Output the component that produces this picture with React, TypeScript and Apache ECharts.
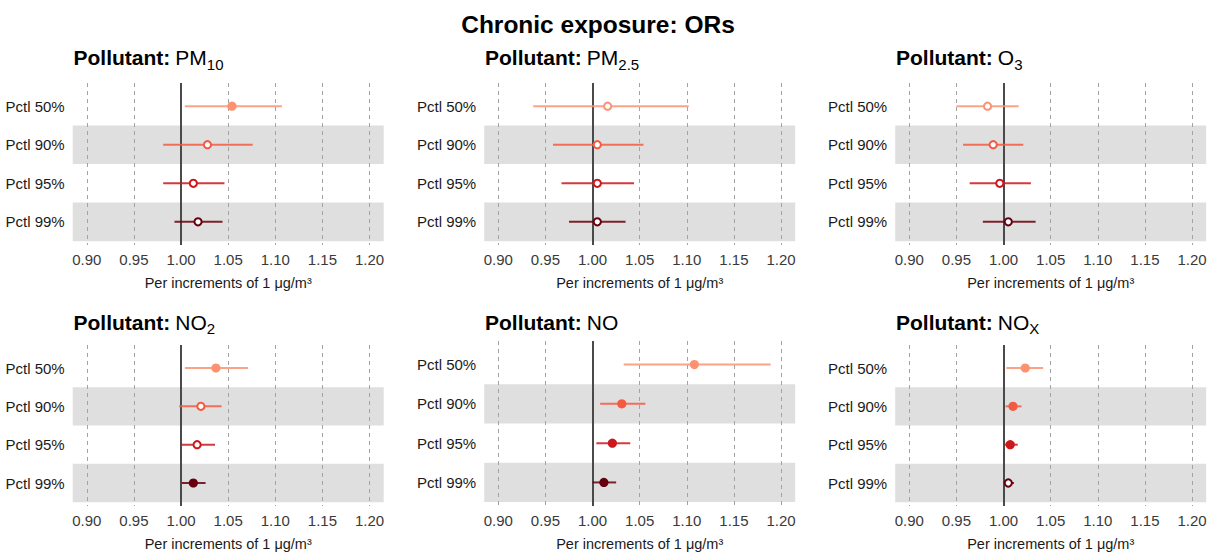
import { useEffect, useRef } from 'react';
import * as echarts from 'echarts';

// ---------- data ----------
const pctlLabels = ['Pctl 50%', 'Pctl 90%', 'Pctl 95%', 'Pctl 99%'];
const pctlColors = ['#FC9272', '#F45A42', '#CB181D', '#67000D'];
const xTicks = [0.9, 0.95, 1.0, 1.05, 1.1, 1.15, 1.2];
const bandRows = [2, 4];

const pm10Est = [1.054, 1.028, 1.013, 1.018];
const pm10Low = [1.004, 0.981, 0.981, 0.993];
const pm10High = [1.107, 1.076, 1.046, 1.044];
const pm10Filled = [1, 0, 0, 0];

const pm25Est = [1.016, 1.005, 1.005, 1.005];
const pm25Low = [0.937, 0.958, 0.967, 0.975];
const pm25High = [1.102, 1.054, 1.044, 1.035];
const pm25Filled = [0, 0, 0, 0];

const o3Est = [0.983, 0.989, 0.996, 1.005];
const o3Low = [0.950, 0.957, 0.964, 0.978];
const o3High = [1.016, 1.021, 1.029, 1.034];
const o3Filled = [0, 0, 0, 0];

const no2Est = [1.037, 1.021, 1.017, 1.013];
const no2Low = [1.004, 0.998, 1.000, 1.001];
const no2High = [1.071, 1.043, 1.036, 1.026];
const no2Filled = [1, 0, 0, 1];

const noEst = [1.108, 1.031, 1.021, 1.012];
const noLow = [1.033, 1.008, 1.004, 1.000];
const noHigh = [1.189, 1.056, 1.040, 1.025];
const noFilled = [1, 1, 1, 1];

const noxEst = [1.023, 1.010, 1.007, 1.005];
const noxLow = [1.003, 1.002, 1.001, 1.001];
const noxHigh = [1.042, 1.019, 1.015, 1.011];
const noxFilled = [1, 1, 1, 0];

const pollutantNames = ['PM', 'PM', 'O', 'NO', 'NO', 'NO'];
const pollutantSubs = ['10', '2.5', '3', '2', '', 'X'];

const mainTitle = 'Chronic exposure: ORs';
const xAxisTitle = 'Per increments of 1 μg/m³';

// ---------- layout ----------
const FONT = '"Liberation Sans", Arial, Helvetica, sans-serif';
const X_MIN = 0.885;
const X_MAX = 1.215;
const Y_MIN = 0.4;
const Y_MAX = 4.6;

const panelBoxes = [
  { left: 72.7, top: 83, width: 311, height: 162 },
  { left: 484.2, top: 83, width: 311, height: 162 },
  { left: 895.2, top: 83, width: 311, height: 162 },
  { left: 72.7, top: 345, width: 311, height: 161 },
  { left: 484.2, top: 341, width: 311, height: 165 },
  { left: 895.2, top: 345, width: 311, height: 161 },
];
const titleTops = [43.5, 43.5, 43.5, 308, 308, 308];

const panelsData = [
  [pm10Est, pm10Low, pm10High, pm10Filled],
  [pm25Est, pm25Low, pm25High, pm25Filled],
  [o3Est, o3Low, o3High, o3Filled],
  [no2Est, no2Low, no2High, no2Filled],
  [noEst, noLow, noHigh, noFilled],
  [noxEst, noxLow, noxHigh, noxFilled],
];

function buildOption() {
  const grid: any[] = [];
  const xAxis: any[] = [];
  const yAxis: any[] = [];
  const series: any[] = [];
  const title: any[] = [];

  panelBoxes.forEach((box, i) => {
    grid.push({ ...box, containLabel: false, outerBoundsMode: 'none' });
    xAxis.push({
      type: 'value',
      gridIndex: i,
      min: X_MIN,
      max: X_MAX,
      axisLine: { show: false },
      axisTick: { show: false },
      splitLine: { show: false },
      axisLabel: {
        customValues: xTicks,
        formatter: (v: number) => v.toFixed(2),
        fontFamily: FONT,
        fontSize: 15,
        color: '#3a3a3a',
        margin: 7,
      },
      name: xAxisTitle,
      nameLocation: 'middle',
      nameGap: 30,
      nameTextStyle: { fontFamily: FONT, fontSize: 14.5, color: '#1a1a1a' },
    });
    yAxis.push({
      type: 'value',
      gridIndex: i,
      inverse: true,
      min: Y_MIN,
      max: Y_MAX,
      axisLine: { show: false },
      axisTick: { show: false },
      splitLine: { show: false },
      axisLabel: {
        customValues: [1, 2, 3, 4],
        formatter: (v: number) => pctlLabels[Math.round(v) - 1] || '',
        fontFamily: FONT,
        fontSize: 15,
        color: '#1a1a1a',
        margin: 8,
      },
    });

    const [est, low, high, filled] = panelsData[i];
    const data = pctlLabels.map((_, r) => [r + 1, est[r], low[r], high[r], filled[r], r]);

    series.push({
      type: 'custom',
      xAxisIndex: i,
      yAxisIndex: i,
      encode: { x: [1, 2, 3], y: 0 },
      data,
      silent: true,
      z: 3,
      renderItem: (_params: any, api: any) => {
        const y = api.value(0);
        const e = api.value(1);
        const lo = api.value(2);
        const hi = api.value(3);
        const f = api.value(4);
        const color = pctlColors[api.value(5)];
        const p0 = api.coord([lo, y]);
        const p1 = api.coord([hi, y]);
        const pc = api.coord([e, y]);
        return {
          type: 'group',
          children: [
            {
              type: 'line',
              shape: { x1: p0[0], y1: p0[1], x2: p1[0], y2: p1[1] },
              style: { stroke: color, lineWidth: 2, opacity: 0.85 },
            },
            {
              type: 'circle',
              shape: { cx: pc[0], cy: pc[1], r: f ? 4.6 : 3.6 },
              style: f
                ? { fill: color, stroke: color, lineWidth: 0 }
                : { fill: '#ffffff', stroke: color, lineWidth: 2 },
            },
          ],
        };
      },
      markArea: {
        silent: true,
        z: 1,
        itemStyle: { color: 'rgba(0,0,0,0.125)', opacity: 1, borderWidth: 0 },
        data: bandRows.map((r) => [{ yAxis: r - 0.5 }, { yAxis: r + 0.5 }]),
      },
      markLine: {
        silent: true,
        z: 2,
        symbol: ['none', 'none'],
        label: { show: false },
        emphasis: { disabled: true },
        data: [
          ...xTicks.map((t) => ({
            xAxis: t,
            lineStyle: { type: [4, 4], color: '#a3a3a3', width: 1 },
          })),
          { xAxis: 1, lineStyle: { type: 'solid', color: '#4a4a4a', width: 2 } },
        ],
      },
    });

    const sub = pollutantSubs[i];
    title.push({
      left: box.left + 0.8,
      top: titleTops[i],
      padding: 0,
      text: `{b|Pollutant:} {n|${pollutantNames[i]}}` + (sub ? `{s|${sub}}` : ''),
      textStyle: {
        rich: {
          b: { fontFamily: FONT, fontWeight: 'bold', fontSize: 21, lineHeight: 28, color: '#000' },
          n: { fontFamily: FONT, fontWeight: 'normal', fontSize: 21, lineHeight: 28, color: '#000' },
          s: {
            fontFamily: FONT,
            fontWeight: 'normal',
            fontSize: 15,
            lineHeight: 15,
            verticalAlign: 'bottom',
            color: '#000',
          },
        },
      },
    });
  });

  return {
    animation: false,
    backgroundColor: '#ffffff',
    title,
    grid,
    xAxis,
    yAxis,
    series,
    graphic: [
      {
        type: 'text',
        x: 598,
        y: 24,
        style: {
          text: mainTitle,
          align: 'center',
          verticalAlign: 'middle',
          fontFamily: FONT,
          fontWeight: 'bold',
          fontSize: 24.5,
          fill: '#000',
        },
      },
    ],
  };
}

export default function App() {
  const ref = useRef<HTMLDivElement>(null);
  useEffect(() => {
    if (!ref.current) return;
    const chart = echarts.init(ref.current, undefined, { renderer: 'svg' });
    chart.setOption(buildOption() as any);
    return () => chart.dispose();
  }, []);
  return (
    <div
      ref={ref}
      style={{ position: 'absolute', left: 0, top: 0, width: 1216, height: 553, background: '#fff' }}
    />
  );
}
